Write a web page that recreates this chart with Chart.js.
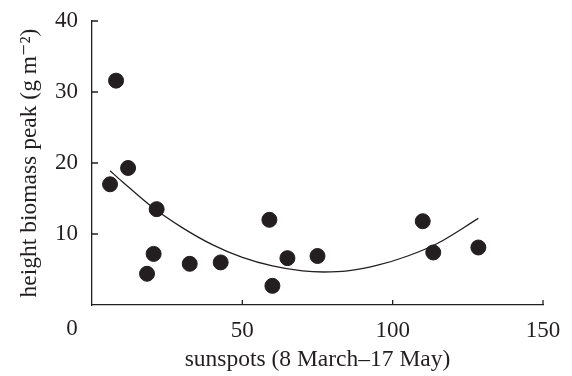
<!DOCTYPE html>
<html>
<head>
<meta charset="utf-8">
<script src="https://cdn.jsdelivr.net/npm/chart.js@4"></script>
<style>
  html, body { margin: 0; padding: 0; background: #fff; }
  #wrap { width: 572px; height: 376px; }
</style>
</head>
<body>
<div id="wrap"><canvas id="chart1"></canvas></div>
<script>
// observations: sunspots vs height biomass peak
const sunspots = [6, 8, 12, 21.5, 20.5, 18.3, 32.5, 42.8, 59, 60, 65, 75, 110, 113.5, 128.5];
const biomass = [17, 31.6, 19.3, 13.5, 7.2, 4.4, 5.8, 6, 12, 2.7, 6.6, 6.9, 11.8, 7.4, 8.1];

// fitted curve
const fitX = [6, 10, 20, 30, 40, 50, 60, 70, 77, 85, 95, 105, 115, 128.5];
const fitY = [18.9, 17.4, 13.8, 10.9, 8.5, 6.7, 5.5, 4.8, 4.65, 4.8, 5.6, 6.9, 8.7, 12.2];

const xTicks = [0, 50, 100, 150];
const yTicks = [0, 10, 20, 30, 40];

const ink = '#231f20';
const serif = "'Liberation Serif', 'DejaVu Serif', serif";

// draws the inward tick marks and the shared "0" at the origin
const axisDecor = {
    id: 'axisDecor',
    afterDraw(chart) {
        const ctx = chart.ctx;
        const x = chart.scales.x, y = chart.scales.y;
        ctx.save();
        ctx.strokeStyle = ink;
        ctx.lineWidth = 1.3;
        ctx.beginPath();
        xTicks.forEach(v => {
            if (v === 0) return;
            const px = x.getPixelForValue(v);
            ctx.moveTo(px, y.bottom);
            ctx.lineTo(px, y.bottom - 5);
        });
        yTicks.forEach(v => {
            if (v === 0) return;
            const py = y.getPixelForValue(v);
            ctx.moveTo(x.left, py);
            ctx.lineTo(x.left + 6, py);
        });
        ctx.stroke();
        ctx.fillStyle = ink;
        ctx.font = '23px ' + serif;
        ctx.textAlign = 'center';
        ctx.textBaseline = 'middle';
        ctx.fillText('0', 72, 329);
        ctx.restore();
    }
};

const points = sunspots.map((v, i) => ({ x: v, y: biomass[i] }));
const curve = fitX.map((v, i) => ({ x: v, y: fitY[i] }));

new Chart(document.getElementById('chart1'), {
    type: 'scatter',
    data: {
        datasets: [
            {
                label: 'fit',
                type: 'line',
                data: curve,
                borderColor: ink,
                borderWidth: 1.3,
                pointRadius: 0,
                fill: false,
                cubicInterpolationMode: 'monotone'
            },
            {
                label: 'observed',
                data: points,
                backgroundColor: ink,
                borderColor: ink,
                pointRadius: 7.5,
                pointHoverRadius: 7.5
            }
        ]
    },
    options: {
        responsive: true,
        maintainAspectRatio: false,
        animation: false,
        layout: { padding: { top: 21, right: 29, left: 0, bottom: 0 } },
        plugins: {
            legend: { display: false },
            tooltip: { enabled: false }
        },
        scales: {
            x: {
                type: 'linear',
                min: 0,
                max: 150,
                afterBuildTicks: s => { s.ticks = xTicks.map(v => ({ value: v })); },
                afterFit: s => { s.height = 71; s.paddingLeft = 0; s.paddingRight = 0; },
                grid: { display: false, drawTicks: false },
                border: { display: true, color: ink, width: 1.3 },
                ticks: {
                    color: ink,
                    font: { family: serif, size: 23 },
                    padding: 12,
                    maxRotation: 0,
                    callback: v => v === 0 ? '' : v
                },
                title: {
                    display: true,
                    text: 'sunspots (8 March\u201317 May)',
                    color: ink,
                    font: { family: serif, size: 23.5 },
                    padding: { top: 0, bottom: 2 }
                }
            },
            y: {
                type: 'linear',
                min: 0,
                max: 40,
                afterBuildTicks: s => { s.ticks = yTicks.map(v => ({ value: v })); },
                afterFit: s => { s.width = 92; s.paddingTop = 0; s.paddingBottom = 0; },
                grid: { display: false, drawTicks: false },
                border: { display: true, color: ink, width: 1.3 },
                ticks: {
                    color: ink,
                    font: { family: serif, size: 23 },
                    padding: 14,
                    callback: v => v === 0 ? '' : v
                },
                title: {
                    display: true,
                    text: 'height biomass peak (g m\u207B\u00B2)',
                    color: ink,
                    font: { family: serif, size: 23.5 },
                    padding: { top: 16, bottom: 0 }
                }
            }
        }
    },
    plugins: [axisDecor]
});
</script>
</body>
</html>
